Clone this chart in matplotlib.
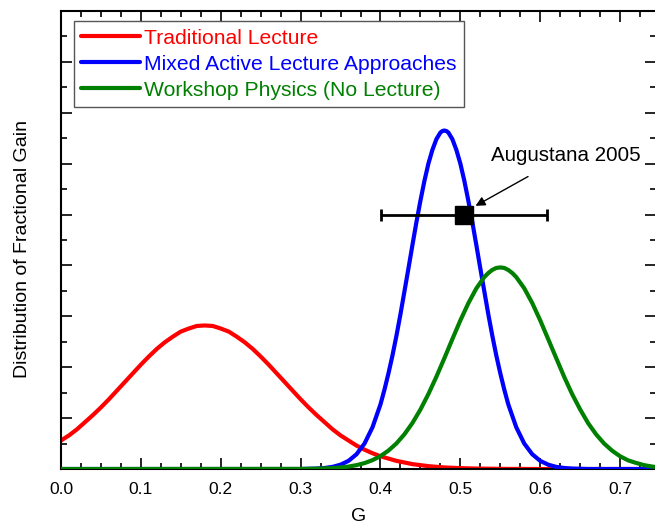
import numpy as np
import matplotlib
matplotlib.use('Agg')
import matplotlib.pyplot as plt
from matplotlib.ticker import MultipleLocator

plt.rcParams['font.family'] = ['Liberation Sans', 'DejaVu Sans']

# values (G, distribution height)
red_g = [0.00, 0.01, 0.02, 0.03, 0.04, 0.05, 0.06, 0.07, 0.08, 0.09, 0.10, 0.11,
         0.12, 0.13, 0.14, 0.15, 0.16, 0.17, 0.18, 0.19, 0.20, 0.21, 0.22, 0.23,
         0.24, 0.25, 0.26, 0.27, 0.28, 0.29, 0.30, 0.31, 0.32, 0.33, 0.34, 0.35,
         0.36, 0.37, 0.38, 0.39, 0.40, 0.42, 0.44, 0.46, 0.48, 0.50, 0.52, 0.54,
         0.56, 0.60, 0.66, 0.74]
red_y = [0.56, 0.66, 0.78, 0.92, 1.06, 1.21, 1.37, 1.54, 1.71, 1.88, 2.05, 2.21,
         2.36, 2.49, 2.60, 2.70, 2.76, 2.81, 2.82, 2.81, 2.76, 2.70, 2.60, 2.49,
         2.36, 2.21, 2.05, 1.88, 1.71, 1.54, 1.37, 1.21, 1.06, 0.92, 0.78, 0.66,
         0.56, 0.46, 0.38, 0.31, 0.25, 0.16, 0.096, 0.056, 0.031, 0.017, 0.009, 0.005,
         0.002, 0.0, 0.0, 0.0]

blue_g = [0.00, 0.30, 0.32, 0.33, 0.34, 0.35, 0.36, 0.37, 0.38, 0.39, 0.40, 0.405,
          0.41, 0.415, 0.42, 0.425, 0.43, 0.435, 0.44, 0.445, 0.45, 0.455, 0.46, 0.465,
          0.47, 0.475, 0.4775, 0.48, 0.4825, 0.485, 0.49, 0.495, 0.50, 0.505, 0.51,
          0.515, 0.52, 0.525, 0.53, 0.535, 0.54, 0.545, 0.55, 0.555, 0.56, 0.57, 0.58,
          0.59, 0.60, 0.61, 0.62, 0.63, 0.64, 0.66, 0.74]
blue_y = [0.0, 0.0, 0.009, 0.020, 0.042, 0.085, 0.16, 0.29, 0.50, 0.82, 1.27, 1.56,
          1.88, 2.23, 2.62, 3.04, 3.49, 3.94, 4.40, 4.85, 5.27, 5.66, 6.00, 6.27,
          6.48, 6.61, 6.64, 6.65, 6.64, 6.61, 6.48, 6.27, 6.00, 5.66, 5.27,
          4.85, 4.40, 3.94, 3.49, 3.04, 2.62, 2.23, 1.88, 1.56, 1.27, 0.82, 0.50,
          0.29, 0.16, 0.085, 0.042, 0.020, 0.009, 0.0, 0.0]

green_g = [0.00, 0.30, 0.32, 0.34, 0.35, 0.36, 0.37, 0.38, 0.39, 0.40, 0.41, 0.42,
           0.43, 0.44, 0.45, 0.46, 0.47, 0.48, 0.49, 0.50, 0.51, 0.52, 0.53, 0.535,
           0.54, 0.545, 0.55, 0.555, 0.56, 0.565, 0.57, 0.58, 0.59, 0.60, 0.61, 0.62,
           0.63, 0.64, 0.65, 0.66, 0.67, 0.68, 0.69, 0.70, 0.71, 0.72, 0.73, 0.74,
           0.75]
green_y = [0.0, 0.002, 0.006, 0.018, 0.030, 0.048, 0.076, 0.116, 0.174, 0.254, 0.362,
           0.503, 0.683, 0.904, 1.168, 1.473, 1.813, 2.177, 2.552, 2.919, 3.257,
           3.548, 3.771, 3.85, 3.912, 3.95, 3.96, 3.95, 3.91, 3.85, 3.77, 3.55, 3.26,
           2.92, 2.55, 2.18, 1.81, 1.47, 1.17, 0.90, 0.68, 0.50, 0.36, 0.25, 0.17,
           0.12, 0.076, 0.048, 0.03]

labels = ['Traditional Lecture', 'Mixed Active Lecture Approaches',
          'Workshop Physics (No Lecture)']
colors = ['#ff0000', '#0000ff', '#008000']

# Augustana 2005 data point with its error bar
aug_g = 0.505
aug_err = 0.104
aug_y = 5.0

fig = plt.figure(figsize=(6.55, 5.29), dpi=100)
ax = fig.add_axes([0.0931, 0.1134, 0.9085, 0.866])

line_kw = dict(lw=3, solid_joinstyle='round', solid_capstyle='round')
ax.plot(red_g, red_y, color=colors[0], label=labels[0], zorder=2, **line_kw)
ax.plot(blue_g, blue_y, color=colors[1], label=labels[1], zorder=3, **line_kw)
ax.plot(green_g, green_y, color=colors[2], label=labels[2], zorder=4, **line_kw)

ax.errorbar([aug_g], [aug_y], xerr=[aug_err], fmt='s', color='black', ms=13,
            elinewidth=2, capsize=4, capthick=2, zorder=5)
ax.annotate('Augustana 2005', xy=(0.519, 5.17), xytext=(0.632, 6.16),
            fontsize=14.8, ha='center', va='center',
            arrowprops=dict(arrowstyle='-|>', color='black', lw=1,
                            mutation_scale=14, shrinkA=13, shrinkB=0))

ax.set_xlim(0, 0.745)
ax.set_ylim(0, 9)
ax.xaxis.set_major_locator(MultipleLocator(0.1))
ax.xaxis.set_minor_locator(MultipleLocator(0.025))
ax.yaxis.set_major_locator(MultipleLocator(1))
ax.yaxis.set_minor_locator(MultipleLocator(0.5))
ax.tick_params(which='both', direction='in', top=True, right=True, width=1.2,
               labelleft=False, labelsize=12.5, pad=9)
ax.tick_params(which='major', length=8)
ax.tick_params(which='minor', length=4.5)
for sp in ax.spines.values():
    sp.set_linewidth(1.5)

ax.set_xlabel('G', fontsize=14, labelpad=8)
ax.set_ylabel('Distribution of Fractional Gain', fontsize=14)
ax.yaxis.set_label_coords(-0.051, 0.48)

leg = ax.legend(loc='upper left', bbox_to_anchor=(0.022, 0.977), borderaxespad=0,
                fontsize=15.2, handlelength=2.75, handletextpad=0.2, labelspacing=0.33,
                fancybox=False, edgecolor='#555555', framealpha=1,
                borderpad=0.35)
leg.get_frame().set_linewidth(1.0)
for txt, c in zip(leg.get_texts(), colors):
    txt.set_color(c)

fig.savefig('out.png', dpi=100)
